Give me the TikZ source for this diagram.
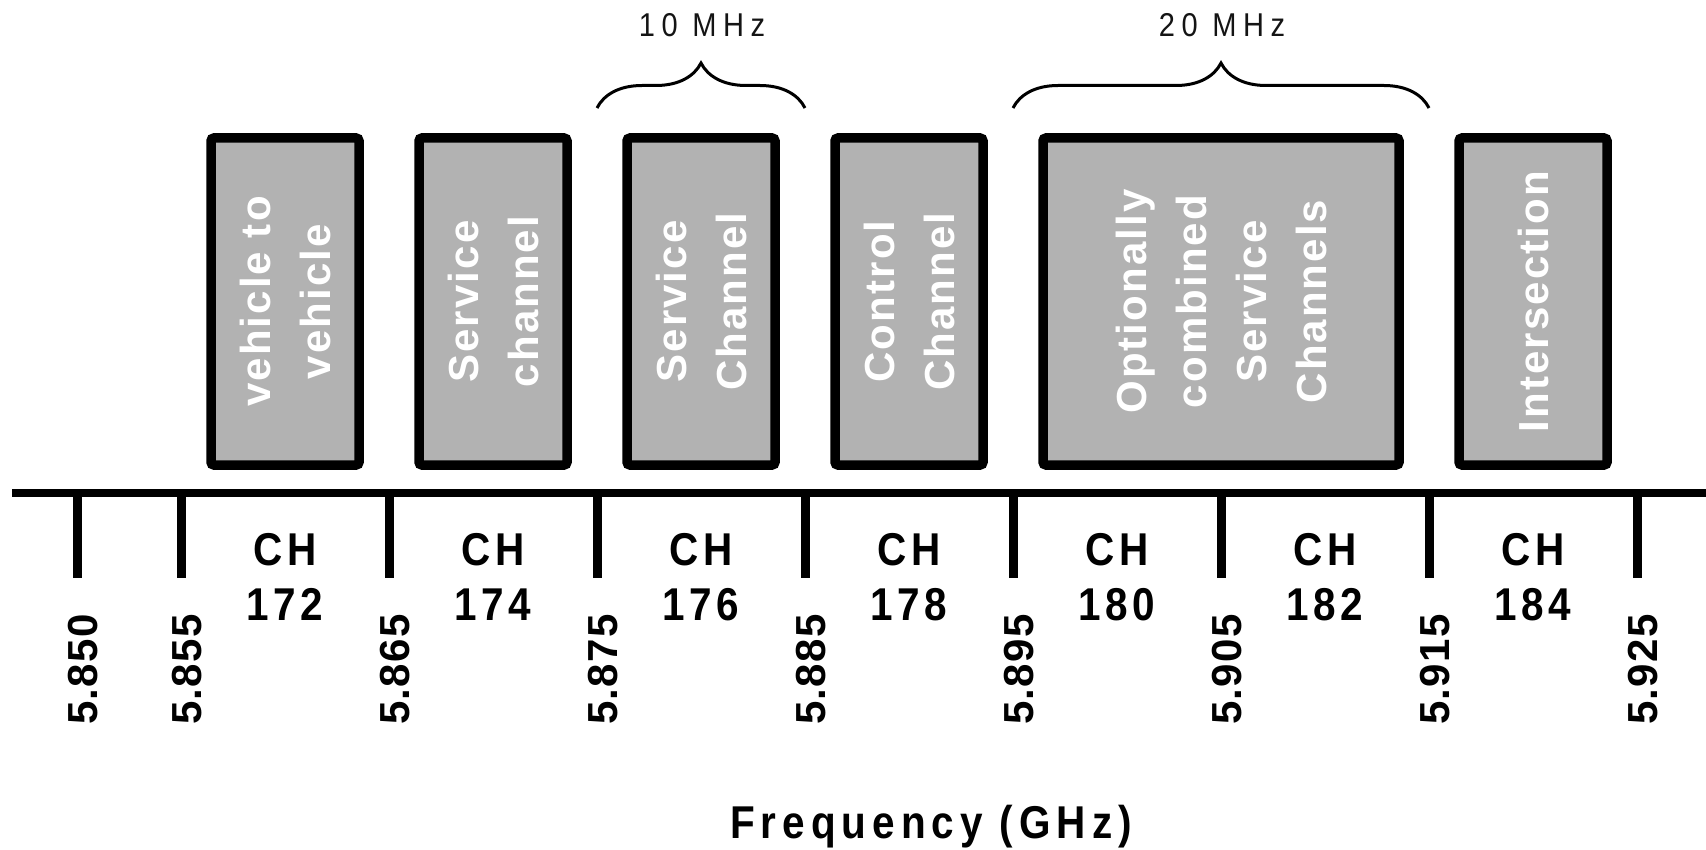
\documentclass[tikz,border=0pt]{standalone}
\usepackage{fontspec}
\usepackage{tikz}
\usetikzlibrary{decorations.pathreplacing,calc}
\setmainfont{Liberation Sans}
\newfontfamily\boxfont[LetterSpace=5]{Liberation Sans}
\newfontfamily\freqfont[LetterSpace=3]{Liberation Sans}
\newfontfamily\chfont[FakeStretch=0.88,LetterSpace=10]{Liberation Sans}
\newfontfamily\bwfont[FakeStretch=0.88,LetterSpace=20]{Liberation Sans}
\newfontfamily\axfont[FakeStretch=0.88,LetterSpace=13]{Liberation Sans}
\definecolor{ink}{RGB}{0,0,0}
\definecolor{bandgray}{RGB}{178,178,178}
\definecolor{muted}{RGB}{20,20,20}

\begin{document}
\begin{tikzpicture}[x=0.5pt,y=-0.5pt,
    band/.style={draw=ink,line width=4.75pt,fill=bandgray,rounded corners=1.5pt,
      rotate=90,minimum width=163.5pt,inner sep=0pt,text=white,align=center,
      font=\boxfont\bfseries\fontsize{21pt}{30pt}\selectfont},
    tickline/.style={draw=ink,line width=4.5pt},
    freqlab/.style={rotate=90,anchor=base west,inner sep=0pt,
      font=\freqfont\bfseries\fontsize{21pt}{25pt}\selectfont},
    chlab/.style={anchor=north,inner sep=0pt,align=center,
      font=\chfont\bfseries\fontsize{23pt}{27.5pt}\selectfont},
    brc/.style={draw=ink,line width=1.5pt,decorate,
      decoration={brace,amplitude=22.5pt}},
    bwlab/.style={anchor=base,inner sep=0pt,text=muted,
      font=\bwfont\fontsize{16.5pt}{19pt}\selectfont}
  ]
  \useasboundingbox (0,0) rectangle (1706,850);

  \coordinate (axL) at (12,493);
  \coordinate (axR) at (1706,493);
  \draw[ink,line width=4pt] (axL) -- (axR);

  \foreach \f in {850,855,865,875,885,895,905,915,925} {
    \coordinate (f\f) at ({77+(\f-850)*20.8},493);
    \draw[tickline] (f\f) -- ++(0,85);
    \node[freqlab] (l\f) at ($(f\f)+(20,232)$) {5.\f};
  }

  \foreach \a/\b/\c/\txt in {855/865/172/{vehicle to\\vehicle},
      865/875/174/{Service\\channel},875/885/176/{Service\\Channel},
      885/895/178/{Control\\Channel},
      895/915/180/{Optionally\\combined\\Service\\Channels},
      915/925/184/{Intersection}} {
    \pgfmathsetmacro\xc{77+((\a+\b)/2-850)*20.8}
    \pgfmathsetmacro\bandw{(\b-\a)*10.4-30}
    \node[band,minimum height=\bandw pt] (b\c) at (\xc,301.5) {\txt};
  }

  \foreach \c in {172,174,...,184} {
    \node[chlab] (ch\c) at ({77+(10+(\c-172)*5)*20.8},533) {CH\\\c};
  }

  \draw[brc] (f875 |- 0,108) -- (f885 |- 0,108);
  \draw[brc] (f895 |- 0,108) -- (f915 |- 0,108);
  \node[bwlab] (bw10) at (702,37) {10 MHz};
  \node[bwlab] (bw20) at (1222,37) {20 MHz};

  \node[anchor=base,inner sep=0pt,
    font=\axfont\bfseries\fontsize{23pt}{27pt}\selectfont]
    (axt) at (931,838) {Frequency (GHz)};
\end{tikzpicture}
\end{document}
